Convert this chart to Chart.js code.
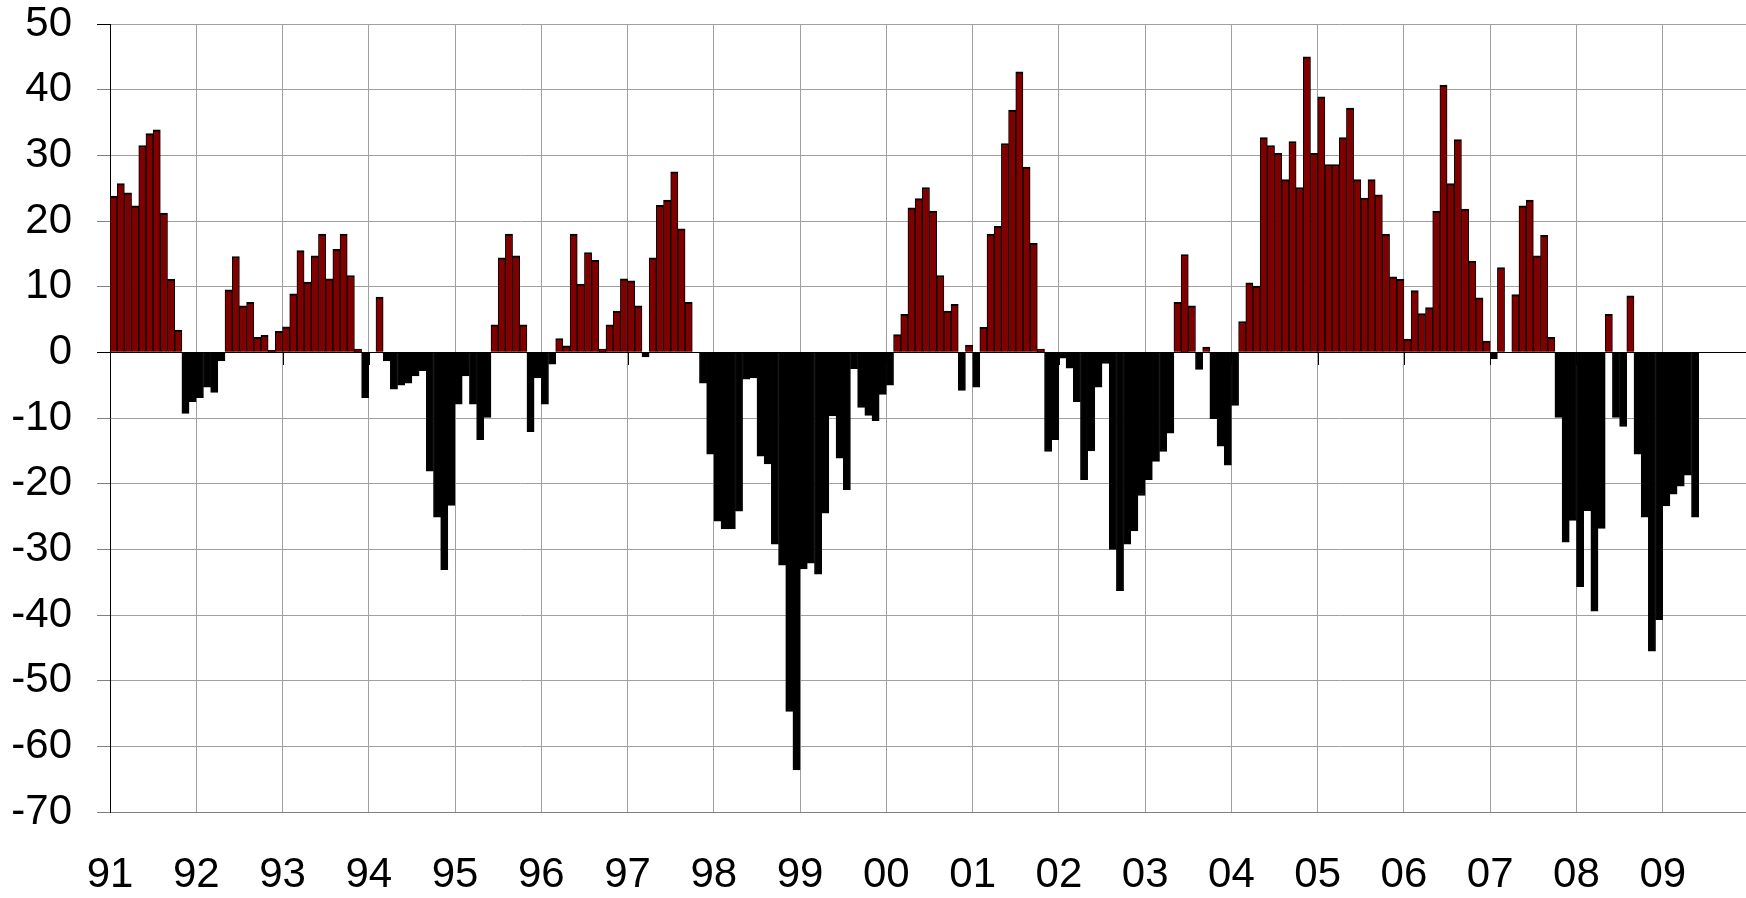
<!DOCTYPE html>
<html>
<head>
<meta charset="utf-8">
<script src="https://cdn.jsdelivr.net/npm/chart.js@4/dist/chart.umd.min.js"></script>
<style>
html,body{margin:0;padding:0;overflow:hidden;background:#fff}
#wrap{position:relative;width:1752px;height:898px}
</style>
</head>
<body>
<div id="wrap"><canvas id="c" width="1752" height="898"></canvas></div>
<script>
// Year tick labels (one per 12 months, starting Jan 1991)
const yearLabels = ['91','92','93','94','95','96','97','98','99','00','01','02','03','04','05','06','07','08','09'];
const monthsPerYear = 12;

// Monthly values, Jan 1991 .. May 2009
const v1991 = [23.8, 25.7, 24.3, 22.3, 31.5, 33.3, 33.9, 21.2, 11.1, 3.4, -9.3, -7.5];
const v1992 = [-6.9, -5.3, -6.1, -1.3, 9.5, 14.6, 7.1, 7.6, 2.3, 2.6, 0.3, 3.2];
const v1993 = [3.9, 8.9, 15.5, 10.7, 14.7, 18.0, 11.2, 15.7, 18.0, 11.7, 0.5, -6.9];
const v1994 = [0, 8.4, -1.3, -5.6, -5.0, -4.7, -3.6, -2.8, -18.1, -25.1, -33.1, -23.3];
const v1995 = [-7.9, -3.6, -7.9, -13.3, -9.9, 4.2, 14.4, 18.0, 14.7, 4.2, -12.1, -3.9];
const v1996 = [-7.9, -1.8, 2.1, 1.0, 18.0, 10.4, 15.2, 14.0, 0.5, 4.2, 6.3, 11.2];
const v1997 = [10.9, 7.1, -0.7, 14.4, 22.4, 23.2, 27.5, 18.8, 7.6, 0, -4.7, -15.5];
const v1998 = [-25.7, -26.9, -26.9, -24.2, -4.1, -3.9, -15.8, -17.0, -29.2, -32.4, -54.7, -63.6];
const v1999 = [-33.0, -32.1, -33.8, -24.5, -9.7, -16.1, -20.9, -2.5, -8.4, -9.6, -10.4, -6.4];
const v2000 = [-5.0, 2.7, 5.8, 22.0, 23.4, 25.1, 21.5, 11.7, 6.3, 7.3, -5.8, 1.1];
const v2001 = [-5.3, 3.8, 18.0, 19.2, 31.8, 36.9, 42.7, 28.2, 16.6, 0.5, -15.1, -13.3];
const v2002 = [-0.9, -2.4, -7.5, -19.4, -15.0, -5.3, -1.7, -30.0, -36.3, -29.2, -27.2, -21.8];
const v2003 = [-19.4, -16.6, -15.1, -12.3, 7.6, 14.9, 7.1, -2.6, 0.8, -10.1, -14.3, -17.2];
const v2004 = [-8.1, 4.7, 10.6, 10.1, 32.7, 31.5, 30.3, 26.3, 32.1, 25.1, 45.0, 30.3];
const v2005 = [38.9, 28.6, 28.6, 32.7, 37.2, 26.3, 23.5, 26.3, 24.0, 18.0, 11.5, 11.1];
const v2006 = [2.0, 9.4, 5.9, 6.8, 21.5, 40.7, 25.7, 32.4, 21.8, 13.9, 8.3, 1.7];
const v2007 = [-1.0, 12.9, 0, 8.8, 22.3, 23.2, 14.7, 17.8, 2.3, -9.9, -28.9, -25.6];
const v2008 = [-35.7, -24.1, -39.4, -26.8, 5.8, -9.9, -11.3, 8.6, -15.5, -25.1, -45.5, -40.7];
const v2009 = [-23.4, -21.6, -20.4, -18.7, -25.1];

const values = [].concat(v1991, v1992, v1993, v1994, v1995, v1996, v1997, v1998, v1999,
  v2000, v2001, v2002, v2003, v2004, v2005, v2006, v2007, v2008, v2009);

const yMin = -70, yMax = 50, yStep = 10;

const points = values.map((v, i) => ({ x: i + 0.5, y: v }));

const FONT = "'Liberation Sans', Arial, sans-serif";

const zeroTicks = {
  id: 'zeroTicks',
  afterDatasetsDraw(chart) {
    const xs = chart.scales.x, ys = chart.scales.y;
    const y0 = Math.round(ys.getPixelForValue(0));
    const ctx = chart.ctx;
    ctx.save();
    ctx.strokeStyle = '#000';
    ctx.lineWidth = 1;
    ctx.beginPath();
    xs.ticks.forEach(t => {
      const px = Math.round(xs.getPixelForValue(t.value)) + 0.5;
      ctx.moveTo(px, y0);
      ctx.lineTo(px, y0 + 13);
    });
    ctx.moveTo(xs.left, y0 + 0.5);
    ctx.lineTo(xs.right, y0 + 0.5);
    ctx.stroke();
    ctx.restore();
  }
};

new Chart(document.getElementById('c'), {
  type: 'bar',
  data: {
    datasets: [{
      data: points,
      backgroundColor: points.map(p => p.y >= 0 ? '#800000' : '#000000'),
      borderColor: '#000000',
      borderWidth: { top: 2, bottom: 2, left: 1, right: 1 },
      barPercentage: 1,
      categoryPercentage: 1
    }]
  },
  options: {
    responsive: false,
    animation: false,
    devicePixelRatio: 1,
    layout: { padding: { top: 24, right: 3, left: 0, bottom: 0 } },
    plugins: { legend: { display: false }, tooltip: { enabled: false } },
    scales: {
      x: {
        type: 'linear',
        min: 0,
        max: yearLabels.length * monthsPerYear,
        offset: false,
        grid: { offset: false, color: '#a0a0a0', lineWidth: 1, drawTicks: false },
        border: { display: true, color: '#808080', width: 1 },
        ticks: {
          stepSize: monthsPerYear,
          autoSkip: false,
          maxRotation: 0,
          padding: 38,
          color: '#000',
          font: { family: FONT, size: 42 },
          callback: (v) => yearLabels[Math.round(v / monthsPerYear)] ?? ''
        },
        afterFit: (s) => { s.height = 86; s.paddingLeft = 0; s.paddingRight = 0; }
      },
      y: {
        min: yMin,
        max: yMax,
        grid: {
          color: (c) => c.tick && c.tick.value === 0 ? '#000000' : '#a0a0a0',
          lineWidth: 1,
          tickLength: 13,
          tickColor: (c) => c.tick && (c.tick.value === 0 || c.tick.value === yMax) ? '#000000' : '#808080'
        },
        border: { display: true, color: '#000', width: 1 },
        ticks: {
          stepSize: yStep,
          padding: 25,
          color: '#000',
          font: { family: FONT, size: 42 }
        },
        afterFit: (s) => { s.width = 110; s.paddingTop = 0; s.paddingBottom = 0; }
      }
    }
  },
  plugins: [zeroTicks]
});
</script>
</body>
</html>
